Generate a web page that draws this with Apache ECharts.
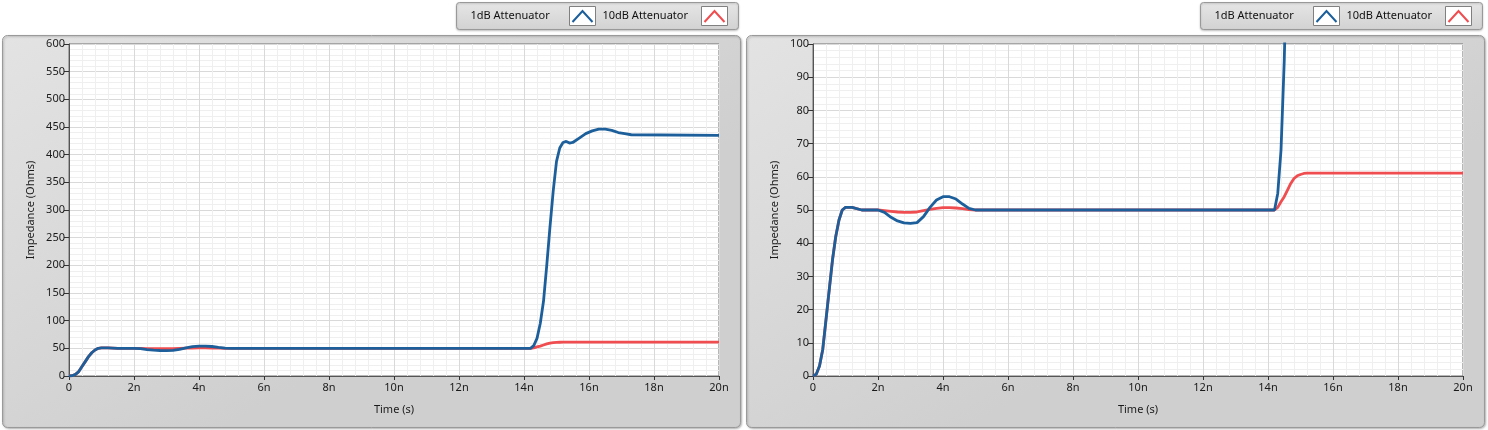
<!DOCTYPE html>
<html>
<head>
<meta charset="utf-8">
<script src="https://cdn.jsdelivr.net/npm/echarts@6/dist/echarts.min.js"></script>
<style>
html,body{margin:0;padding:0;background:#ffffff;}
#chart{width:1488px;height:430px;}
</style>
</head>
<body>
<div id="chart"></div>
<script>
// Time in nanoseconds
const timeNs = [0, 0.1, 0.2, 0.3, 0.4, 0.5, 0.6, 0.7, 0.8, 0.9, 1.0, 1.2, 1.5, 2.0, 2.2, 2.4, 2.6, 2.8, 3.0, 3.2, 3.4, 3.6, 3.8, 4.0, 4.2, 4.4, 4.6, 4.8, 5.0,
  14.2, 14.3, 14.4, 14.5, 14.6, 14.7, 14.8, 14.9, 15.0, 15.1, 15.2, 15.3, 15.4, 15.5, 15.7, 15.9, 16.1, 16.3, 16.5, 16.7, 16.9, 17.1, 17.3, 20];
// 1dB Attenuator impedance (Ohms)
const att1dB = [0, 0.5, 3, 8, 17, 26, 35, 42, 47, 50, 50.8, 50.8, 50, 50, 49.3, 47.8, 46.7, 46.1, 46, 46.2, 48, 50.8, 53, 54, 54, 53.3, 51.8, 50.5, 50,
  50, 55, 68, 95, 135, 200, 270, 335, 388, 412, 422, 424, 421, 422, 430, 438, 443, 446, 446, 444, 440, 438, 436, 435];
// 10dB Attenuator impedance (Ohms)
const att10dB = [0, 0.5, 3, 8, 17, 26, 35, 42, 47, 50, 50.8, 50.8, 50, 50, 49.8, 49.6, 49.4, 49.3, 49.3, 49.4, 49.8, 50.2, 50.5, 50.7, 50.7, 50.6, 50.4, 50.1, 50,
  50, 50.8, 52.5, 54, 56, 58, 59.5, 60.3, 60.7, 61, 61.1, 61.1, 61.1, 61.1, 61.1, 61.1, 61.1, 61.1, 61.1, 61.1, 61.1, 61.1, 61.1, 61.1];
const seriesNames = ['1dB Attenuator', '10dB Attenuator'];
const xTicks = { min: 0, max: 20, interval: 2 };
const yLeft = { min: 0, max: 600, interval: 50 };
const yRight = { min: 0, max: 100, interval: 10 };

const BLUE = '#1c5f9b';
const RED = '#ef4d50';
const FONT = 'Noto Sans';

const pairs = arr => timeNs.map((t, i) => [t, arr[i]]);

function xAxis(gi) {
  return {
    type: 'value', gridIndex: gi, min: xTicks.min, max: xTicks.max, interval: xTicks.interval,
    name: 'Time (s)', nameLocation: 'middle', nameGap: 28,
    nameTextStyle: { color: '#1a1a1a', fontSize: 11, fontFamily: FONT },
    axisLine: { show: true, onZero: false, lineStyle: { color: '#555', width: 1 } },
    axisTick: { show: true, length: 4, lineStyle: { color: '#333' } },
    axisLabel: { color: '#1a1a1a', fontSize: 11, fontFamily: FONT, margin: 6,
      formatter: v => v === 0 ? '0' : v + 'n' },
    splitLine: { show: true, lineStyle: { color: '#d9d9d9', width: 1 } },
    minorTick: { show: true, splitNumber: 5, length: 0 },
    minorSplitLine: { show: true, lineStyle: { color: '#efefef', width: 1 } }
  };
}
function yAxis(gi, cfg) {
  return {
    type: 'value', gridIndex: gi, min: cfg.min, max: cfg.max, interval: cfg.interval,
    name: 'Impedance (Ohms)', nameLocation: 'middle', nameGap: 33,
    nameTextStyle: { color: '#1a1a1a', fontSize: 11, fontFamily: FONT },
    axisLine: { show: true, lineStyle: { color: '#555', width: 1 } },
    axisTick: { show: true, length: 5, lineStyle: { color: '#333' } },
    axisLabel: { color: '#1a1a1a', fontSize: 11, fontFamily: FONT, margin: 4 },
    splitLine: { show: true, lineStyle: { color: '#d9d9d9', width: 1 } },
    minorTick: { show: true, splitNumber: 5, length: 0 },
    minorSplitLine: { show: true, lineStyle: { color: '#efefef', width: 1 } }
  };
}
function panel(x, w) {
  return {
    type: 'rect', z: -10, silent: true,
    shape: { x: x, y: 35.5, width: w, height: 392, r: 5 },
    style: {
      fill: { type: 'linear', x: 0, y: 0, x2: 0.3, y2: 1, colorStops: [
        { offset: 0, color: '#e3e3e3' }, { offset: 1, color: '#cfcfcf' }] },
      stroke: '#9a9a9a', lineWidth: 1,
      shadowColor: 'rgba(0,0,0,0.25)', shadowBlur: 2, shadowOffsetX: 1, shadowOffsetY: 1
    }
  };
}
function iconBox(x, color) {
  return [
    { type: 'rect', silent: true, shape: { x: x, y: 6.5, width: 26, height: 19 },
      style: { fill: '#ffffff', stroke: '#808080', lineWidth: 1 } },
    { type: 'polyline', silent: true, shape: { points: [[x + 3, 22], [x + 13, 11], [x + 23, 22]] },
      style: { stroke: color, lineWidth: 2, fill: null } }
  ];
}
function legend(x) {
  return [
    { type: 'rect', silent: true, shape: { x: x, y: 2.5, width: 282, height: 27, r: 3 },
      style: { fill: { type: 'linear', x: 0, y: 0, x2: 0, y2: 1, colorStops: [
        { offset: 0, color: '#e6e6e6' }, { offset: 1, color: '#d2d2d2' }] },
        stroke: '#999', lineWidth: 1, shadowColor: 'rgba(0,0,0,0.2)', shadowBlur: 2, shadowOffsetY: 1 } },
    { type: 'text', silent: true, style: { x: x + 14, y: 16, text: seriesNames[0], fill: '#111', font: '11px "Noto Sans"', verticalAlign: 'middle' } },
    ...iconBox(x + 113, BLUE),
    { type: 'text', silent: true, style: { x: x + 146, y: 16, text: seriesNames[1], fill: '#111', font: '11px "Noto Sans"', verticalAlign: 'middle' } },
    ...iconBox(x + 245, RED)
  ];
}

const chart = echarts.init(document.getElementById('chart'), null, { renderer: 'canvas' });
chart.setOption({
  animation: false,
  backgroundColor: '#ffffff',
  textStyle: { fontFamily: FONT },
  grid: [
    { left: 69, top: 44, width: 650, height: 332, show: true, backgroundColor: '#ffffff', borderColor: '#6e6e6e', borderWidth: 1 },
    { left: 813, top: 44, width: 650, height: 332, show: true, backgroundColor: '#ffffff', borderColor: '#6e6e6e', borderWidth: 1 }
  ],
  xAxis: [xAxis(0), xAxis(1)],
  yAxis: [yAxis(0, yLeft), yAxis(1, yRight)],
  graphic: [panel(2.5, 738), panel(746.5, 738), ...legend(456.5), ...legend(1200.5)],
  series: [
    { name: seriesNames[1], type: 'line', xAxisIndex: 0, yAxisIndex: 0, data: pairs(att10dB), showSymbol: false, lineStyle: { color: RED, width: 2.8 }, itemStyle: { color: RED } },
    { name: seriesNames[0], type: 'line', xAxisIndex: 0, yAxisIndex: 0, data: pairs(att1dB), showSymbol: false, lineStyle: { color: BLUE, width: 2.8 }, itemStyle: { color: BLUE } },
    { name: seriesNames[1], type: 'line', xAxisIndex: 1, yAxisIndex: 1, data: pairs(att10dB), showSymbol: false, lineStyle: { color: RED, width: 2.8 }, itemStyle: { color: RED } },
    { name: seriesNames[0], type: 'line', xAxisIndex: 1, yAxisIndex: 1, data: pairs(att1dB), showSymbol: false, lineStyle: { color: BLUE, width: 2.8 }, itemStyle: { color: BLUE } }
  ]
});
</script>
</body>
</html>
